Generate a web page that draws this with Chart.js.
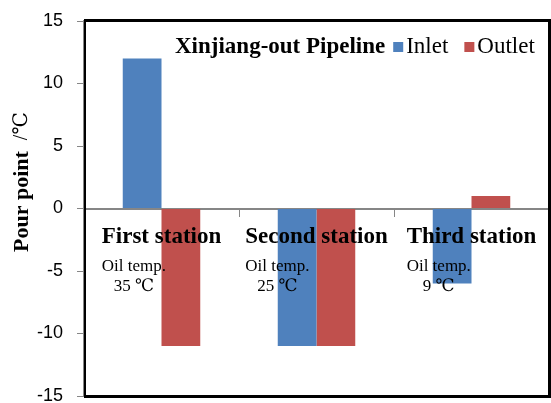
<!DOCTYPE html>
<html lang="en">
<head>
    <meta charset="UTF-8">
    <title>Pour point by station</title>
    <script src="https://cdn.jsdelivr.net/npm/chart.js"></script>
    <style>
        body {
            margin: 0;
            background-color: #fff;
        }
        #wrap {
            width: 551px;
            height: 403px;
        }
    </style>
</head>
<body>
    <div id="wrap">
        <canvas id="pour-chart" width="551" height="403"></canvas>
    </div>

    <script>
        // data
        const stations = ['First station', 'Second station', 'Third station'];
        const oilTemps = ['35 ℃', '25 ℃', '9 ℃'];
        const inletPour = [12, -11, -6];
        const outletPour = [-11, -11, 1];
        const yTicks = [-15, -10, -5, 0, 5, 10, 15];
        const legendTitle = 'Xinjiang-out Pipeline';
        const yTitle = 'Pour point';
        const yUnit = '/℃';

        const serif = '"Liberation Serif", "DejaVu Serif", serif';

        // frame, station labels, legend and y title
        const extras = {
            id: 'extras',
            afterDatasetsDraw(chart) {
                const ctx = chart.ctx;
                const xs = chart.scales.x;
                const ys = chart.scales.y;
                const y0 = ys.getPixelForValue(0);
                ctx.save();
                ctx.fillStyle = '#000';
                ctx.textBaseline = 'middle';
                stations.forEach((name, i) => {
                    const cx = xs.getPixelForValue(i);
                    ctx.font = 'bold 23px ' + serif;
                    ctx.textAlign = 'center';
                    const w = ctx.measureText(name).width;
                    ctx.fillText(name, cx, y0 + 29);
                    ctx.font = '17px ' + serif;
                    ctx.textAlign = 'left';
                    const left = cx - w / 2;
                    const ow = ctx.measureText('Oil temp.').width;
                    ctx.fillText('Oil temp.', left, y0 + 58);
                    ctx.textAlign = 'center';
                    ctx.fillText(oilTemps[i], left + ow / 2, y0 + 78);
                });
                ctx.restore();
            },
            afterDraw(chart) {
                const ctx = chart.ctx;
                const a = chart.chartArea;
                ctx.save();
                // plot frame, drawn as four filled strips
                const l = Math.round(a.left);
                const t = Math.round(a.top);
                const r = Math.round(a.right);
                const b = Math.round(a.bottom);
                ctx.fillStyle = '#000';
                ctx.fillRect(l, t - 2, r - l + 1, 3);
                ctx.fillRect(l, b - 1, r - l + 1, 3);
                ctx.fillRect(l, t - 2, 2, b - t + 4);
                ctx.fillRect(r - 1, t - 2, 3, b - t + 4);

                // legend
                ctx.textBaseline = 'middle';
                ctx.textAlign = 'left';
                let x = 175;
                const ly = 47;
                ctx.font = 'bold 23px ' + serif;
                ctx.fillText(legendTitle, x, ly);
                x += ctx.measureText(legendTitle).width + 8;
                ctx.font = '23px ' + serif;
                chart.data.datasets.forEach(ds => {
                    ctx.fillStyle = ds.backgroundColor;
                    ctx.fillRect(x, ly - 5, 10, 10);
                    x += 13;
                    ctx.fillStyle = '#000';
                    ctx.fillText(ds.label, x, ly);
                    x += ctx.measureText(ds.label).width + 16;
                });

                // y axis title, reading bottom to top from y = 252
                ctx.translate(22, 252);
                ctx.rotate(-Math.PI / 2);
                ctx.textAlign = 'left';
                ctx.font = 'bold 22px ' + serif;
                ctx.fillText(yTitle, 0, 0);
                const tw = ctx.measureText(yTitle + '  ').width;
                ctx.font = '20px ' + serif;
                ctx.fillText(yUnit, tw, 0);
                ctx.restore();
            }
        };

        const ctx = document.getElementById('pour-chart').getContext('2d');
        const pourChart = new Chart(ctx, {
            type: 'bar',
            data: {
                labels: stations,
                datasets: [{
                    label: 'Inlet',
                    data: inletPour,
                    backgroundColor: '#4F81BD',
                    borderWidth: 0
                }, {
                    label: 'Outlet',
                    data: outletPour,
                    backgroundColor: '#C0504D',
                    borderWidth: 0
                }]
            },
            options: {
                responsive: false,
                animation: false,
                layout: {
                    padding: { top: 21, right: 2, bottom: 7, left: 0 }
                },
                datasets: {
                    bar: {
                        categoryPercentage: 0.5,
                        barPercentage: 1
                    }
                },
                plugins: {
                    legend: { display: false },
                    tooltip: { enabled: false }
                },
                scales: {
                    x: {
                        position: { y: 0 },
                        afterFit(scale) {
                            scale.height = 0;
                            scale.paddingLeft = 0;
                            scale.paddingRight = 0;
                        },
                        grid: {
                            offset: true,
                            drawOnChartArea: false,
                            tickLength: 7,
                            color: '#868686'
                        },
                        border: { color: '#868686', width: 2 },
                        ticks: { display: false }
                    },
                    y: {
                        min: -15,
                        max: 15,
                        afterBuildTicks(scale) {
                            scale.ticks = yTicks.map(v => ({ value: v }));
                        },
                        afterFit(scale) {
                            scale.width = 84;
                            scale.paddingTop = 0;
                            scale.paddingBottom = 0;
                        },
                        grid: {
                            drawOnChartArea: false,
                            tickLength: 7,
                            color: '#868686'
                        },
                        border: { color: '#868686', width: 2 },
                        ticks: {
                            padding: 14,
                            color: '#000',
                            font: { family: '"Liberation Sans", Arial, sans-serif', size: 18 }
                        }
                    }
                }
            },
            plugins: [extras]
        });
    </script>
</body>
</html>
